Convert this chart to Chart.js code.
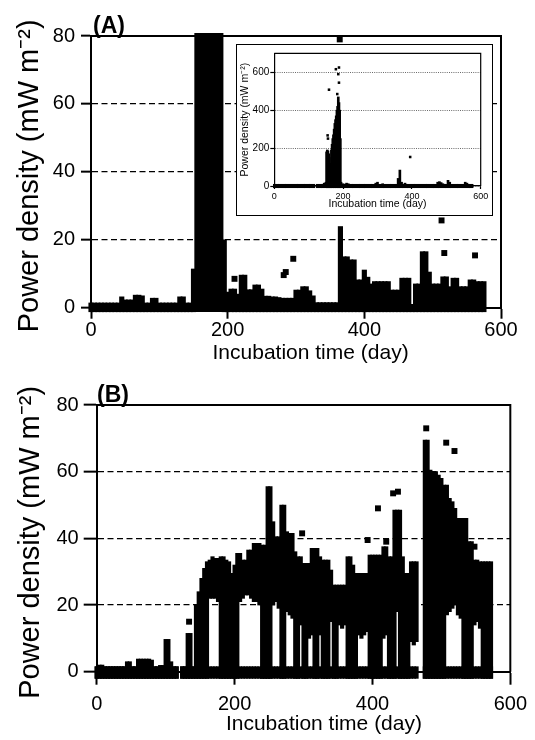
<!DOCTYPE html>
<html>
<head>
<meta charset="utf-8">
<script src="https://cdn.jsdelivr.net/npm/chart.js@4.4.1/dist/chart.umd.min.js"></script>
<style>
body { margin: 0; background: #fff; }
#page { position: relative; width: 535px; height: 740px; overflow: hidden; font-family: "Liberation Sans", Arial, sans-serif; }
canvas { position: absolute; display: block; }
#chartA { left: 0; top: 0; }
#chartB { left: 0; top: 370px; }
#insetBox { position: absolute; left: 236px; top: 44px; width: 255px; height: 170px; border: 1px solid #000; background: #fff; }
#inset { left: 0; top: 0; }
.tag { position: absolute; font-weight: bold; font-size: 23px; line-height: 23px; }
</style>
</head>
<body>
<div id="page">
  <canvas id="chartA" width="535" height="370"></canvas>
  <canvas id="chartB" width="535" height="370"></canvas>
  <div id="insetBox"><canvas id="inset" width="255" height="170"></canvas></div>
  <div class="tag" style="left:93px;top:14px">(A)</div>
  <div class="tag" style="left:97px;top:383px">(B)</div>
</div>
<script>
const FONT = '"Liberation Sans", Arial, sans-serif';

// --- Panel A: top edge of the marker cloud, read every 5 days ---
const dayA = [
  0, 5, 10, 15, 20, 25, 30, 35, 40, 45,
  50, 55, 60, 65, 70, 75, 80, 85, 90, 95,
  100, 105, 110, 115, 120, 125, 130, 135, 140, 145,
  150, 155, 160, 165, 170, 175, 180, 185, 190, 195,
  200, 205, 210, 215, 220, 225, 230, 235, 240, 245,
  250, 255, 260, 265, 270, 275, 280, 285, 290, 295,
  300, 305, 310, 315, 320, 325, 330, 335, 340, 345,
  350, 355, 360, 365, 370, 375, 380, 385, 390, 395,
  400, 405, 410, 415, 420, 425, 430, 435, 440, 445,
  450, 455, 460, 465, 470, 475, 480, 485, 490, 495,
  500, 505, 510, 515, 520, 525, 530, 535, 540, 545,
  550, 555, 560, 565, 570, 575
];
const topA = [
  1.4, 1.4, 1.4, 1.4, 1.4, 1.4, 1.4, 1.4, 1.4, 3.2,
  2.3, 2.3, 2.3, 3.7, 3.7, 3.5, 1.4, 1.4, 2.8, 2.8,
  1.4, 1.4, 1.4, 1.4, 1.4, 1.4, 3.2, 3.2, 1.4, 1.4,
  11.4, 80.8, 80.8, 80.8, 80.8, 80.8, 80.8, 80.8, 80.8, 20,
  4.6, 5.5, 5.5, 4, 9.6, 9.6, 5.3, 5.3, 6.7, 6.7,
  5.5, 3.4, 3.4, 3.2, 3.2, 3, 2.8, 2.8, 2.8, 2.8,
  5.2, 5.2, 6.2, 6.2, 5, 3.5, 1.5, 1.5, 1.5, 1.5,
  1.5, 1.5, 1.5, 23.9, 15, 15, 14.1, 14.1, 8.2, 8.2,
  11.1, 9, 7, 7.7, 7.7, 7.7, 7.7, 7.7, 5.2, 5.2,
  5.2, 8.7, 8.7, 8.7, 1, 7, 7, 16.5, 16.5, 10.5,
  7, 7, 7, 9.1, 9.1, 6.2, 8.7, 8.7, 6.2, 6.2,
  6.2, 8.2, 8.2, 7.7, 7.7, 7.7
];
const bottomA = -1.2;   // lower edge of the zero readings
const spotsA = [[210, 8.5], [282, 9.6], [285, 10.5], [296, 14.4], [364, 79], [513, 25.7], [517, 16.1], [562, 15.4]];

// --- Panel B: band top / band bottom every 4 days (-2 = reaches the zero line) ---
const dayB = [
  0, 4, 8, 12, 16, 20, 24, 28, 32, 36,
  40, 44, 48, 52, 56, 60, 64, 68, 72, 76,
  80, 84, 88, 92, 96, 100, 104, 108, 112, 116,
  120, 124, 128, 132, 136, 140, 144, 148, 152, 156,
  160, 164, 168, 172, 176, 180, 184, 188, 192, 196,
  200, 204, 208, 212, 216, 220, 224, 228, 232, 236,
  240, 244, 248, 252, 256, 260, 264, 268, 272, 276,
  280, 284, 288, 292, 296, 300, 304, 308, 312, 316,
  320, 324, 328, 332, 336, 340, 344, 348, 352, 356,
  360, 364, 368, 372, 376, 380, 384, 388, 392, 396,
  400, 404, 408, 412, 416, 420, 424, 428, 432, 436,
  440, 444, 448, 452, 456, 460, 464, 468, 472, 476,
  480, 484, 488, 492, 496, 500, 504, 508, 512, 516,
  520, 524, 528, 532, 536, 540, 544, 548, 552, 556,
  560, 564, 568, 572
];
const hiB = [
  1.5, 2, 2, 1.5, 1.5, 1.5, 1.5, 1.5, 1.5, 1.5,
  1.5, 3, 3, 1.5, 1.5, 3.8, 3.8, 3.8, 3.8, 3.8,
  3.5, 1.5, 1.5, 1.9, 1.9, 9.7, 9.7, 3, 1.5, 1.5,
  null, 1.5, 1.5, 11.5, 11.5, 1.5, 20, 24, 28, 31,
  33, 33.5, 34.5, 34, 34, 34.5, 34.5, 33.5, 33, 29.5,
  32, 35.5, 35.5, 33.5, 33.5, 36.5, 36.5, 38.5, 38.5, 38.5,
  38, 38, 55.5, 55.5, 45, 40.5, 40.5, 50, 50, 42,
  41.5, 41.5, 36, 34.5, 34.5, 32.5, 32.5, 32.5, 37, 37,
  37, 34.5, 33.5, 33.5, 33.5, 30.5, 26, 26, 26, 26,
  26, 34.5, 34.5, 32, 29.5, 29.5, 29.5, 29.5, 29.5, 35,
  35, 35, 35, 35, 37.5, 37.5, 34.5, 34.5, 48.5, 48.5,
  48.5, 34.5, 29.5, 29.5, 33, 33, 33, null, null, 69.5,
  69.5, 60.5, 60, 60, 59, 58, 56, 56, 52, 51,
  49, 46, 46, 46, 46, 39, 39, 33.5, 33.5, 33,
  33, 33, 33, 33
];
const loB = [
  -2, -2, -2, -2, -2, -2, -2, -2, -2, -2,
  -2, -2, -2, -2, -2, -2, -2, -2, -2, -2,
  -2, -2, -2, -2, -2, -2, -2, -2, -2, -2,
  null, -2, -2, -2, -2, -2, -2, -2, -2, -2,
  -2, 22, 22, 22, 21, -2, -2, -2, -2, -2,
  -2, -2, 21, 22, 23, 23, 22, 21, 21, 20,
  -2, -2, -2, -2, 20, 21, 19, -2, -2, 18,
  17, 16, -2, -2, 14, -2, -2, 10, 11, -2,
  -2, 11, -2, -2, -2, 15, -2, -2, 14, 13,
  14, -2, -2, -2, -2, 11, 10, 11, 12, -2,
  -2, -2, -2, -2, 10, 11, -2, -2, -2, 18,
  -2, -2, -2, -2, 9, 8, 9, null, null, -2,
  -2, -2, -2, -2, -2, -2, -2, 17, 18, 19,
  20, 17, 16, -2, -2, -2, -2, 14, 15, 13,
  -2, -2, -2, -2
];
const floorB = [-2, 1.5];   // the zero readings
const spotsB = [[134, 15], [298, 41.5], [393, 39.5], [408, 49], [420, 39], [430, 53.5], [437, 54],
  [478, 73], [507, 68.7], [519, 66.2], [548, 37.5]];

// --- Inset: full range of panel A ---
const dayIn = [
  0, 5, 10, 15, 20, 25, 30, 35, 40, 45,
  50, 55, 60, 65, 70, 75, 80, 85, 90, 95,
  100, 105, 110, 115, 125, 130, 135, 140, 145, 150,
  152, 154, 156, 158, 160, 162, 164, 166, 168, 170,
  172, 174, 176, 178, 180, 182, 184, 186, 188, 190,
  192, 194, 200, 205, 210, 215, 220, 225, 230, 235,
  240, 245, 250, 255, 260, 265, 270, 275, 280, 285,
  290, 295, 300, 305, 310, 315, 320, 325, 330, 335,
  340, 345, 350, 355, 360, 365, 370, 375, 380, 385,
  390, 395, 400, 405, 410, 415, 420, 425, 430, 435,
  440, 445, 450, 455, 460, 465, 470, 475, 480, 485,
  490, 495, 500, 505, 510, 515, 520, 525, 530, 535,
  540, 545, 550, 555, 560, 565, 570, 575
];
const topIn = [
  9, 9, 9, 9, 9, 9, 9, 9, 9, 9,
  9, 9, 9, 9, 9, 9, 9, 9, 9, 9,
  9, 9, 9, 9, 9, 9, 9, 9, 15, 20,
  180, 190, 185, 170, 150, 120, 75, 190, 220, 250,
  270, 300, 330, 350, 370, 400, 420, 470, 440, 400,
  250, 20, 12, 9, 15, 12, 9, 9, 9, 9,
  9, 9, 9, 9, 9, 9, 9, 9, 9, 9,
  9, 15, 20, 9, 9, 12, 9, 9, 9, 9,
  9, 9, 9, 9, 40, 84, 20, 9, 15, 9,
  9, 9, 9, 9, 9, 9, 9, 9, 9, 9,
  9, 9, 9, 9, 9, 9, 9, 20, 23, 18,
  12, 9, 9, 30, 20, 9, 9, 9, 9, 9,
  9, 9, 9, 20, 15, 9, 9, 9
];
const bottomIn = -9;
const spotsIn = [[155, 267], [156, 250], [159, 508], [179, 616], [188, 625], [186, 590], [183, 485], [188, 545], [395, 153]];

const xTicks = [0, 200, 400, 600];
const yTicksMain = [0, 20, 40, 60, 80];
const yTicksIn = [0, 200, 400, 600];
const yTitle = 'Power density (mW m\u207B\u00B2)';
const xTitle = 'Incubation time (day)';

// --- helpers ---
function bars(days, lo, hi) {
  const out = [];
  days.forEach((d, i) => {
    const l = Array.isArray(lo) ? lo[i] : lo;
    if (hi[i] === null || l === null) return;
    out.push({ x: d, y: [l, hi[i]] });
  });
  return out;
}
const spots = list => list.map(([x, y]) => ({ x, y }));

// top and right edges of the plot box
const frame = {
  id: 'frame',
  beforeDatasetsDraw(chart, args, opts) {
    const { ctx, chartArea: a } = chart;
    ctx.save();
    ctx.strokeStyle = '#000';
    ctx.lineWidth = opts.width;
    ctx.beginPath();
    ctx.moveTo(a.left, a.top);
    ctx.lineTo(a.right, a.top);
    ctx.lineTo(a.right, a.bottom);
    ctx.stroke();
    ctx.restore();
  }
};

function panel(id, p) {
  return new Chart(document.getElementById(id), {
    type: 'bar',
    data: {
      datasets: p.bars.map(data => ({
        data, backgroundColor: '#000', borderWidth: 0,
        barThickness: p.barW, grouped: false, clip: false
      })).concat([{
        type: 'scatter', data: p.spots, pointStyle: 'rect', pointRadius: p.dot,
        backgroundColor: '#000', borderWidth: 0, clip: false
      }])
    },
    plugins: [frame],
    options: {
      responsive: false,
      animation: false,
      events: [],
      layout: { padding: { top: p.top, right: p.right, left: 0, bottom: 0 } },
      plugins: { legend: { display: false }, tooltip: { enabled: false }, frame: { width: p.line } },
      scales: {
        x: {
          type: 'linear', min: 0, max: 600, offset: false,
          afterBuildTicks: s => { s.ticks = xTicks.map(v => ({ value: v })); },
          afterFit: s => { s.height = p.xH; },
          grid: { drawOnChartArea: false, offset: false, color: '#000', tickLength: p.xTick, tickWidth: p.line },
          border: { color: '#000', width: p.line },
          ticks: { color: '#000', font: { family: FONT, size: p.xFont }, padding: p.xPad, maxRotation: 0, autoSkip: false },
          title: { display: true, text: p.xTitle, color: '#000', font: { family: FONT, size: p.titleFont }, padding: { top: 0, bottom: p.xTitlePad } }
        },
        y: {
          min: 0, max: p.yMax,
          afterBuildTicks: s => { s.ticks = p.yTicks.map(v => ({ value: v })); },
          afterFit: s => { s.width = p.yW; },
          grid: { color: p.gridColor, lineWidth: p.gridWidth, tickColor: '#000', tickLength: p.yTick, tickWidth: p.line },
          border: { color: '#000', width: p.line, dash: p.dash },
          ticks: { color: '#000', font: { family: FONT, size: p.yFont }, padding: p.yPad },
          title: { display: true, text: p.yTitle, color: '#000', font: { family: FONT, size: p.yTitleFont }, padding: { top: p.yTitlePad, bottom: 0 } }
        }
      }
    }
  });
}

panel('chartA', {
  bars: [bars(dayA, bottomA, topA)], spots: spots(spotsA), barW: 4.5, dot: 4.2,
  top: 36, right: 34, yW: 91, xH: 62.3, yMax: 80, yTicks: yTicksMain,
  line: 2, gridColor: '#000', gridWidth: 1.3, dash: [6, 3.5],
  xTick: 11, xPad: 0, xFont: 20, yTick: 10, yPad: 6, yFont: 20,
  xTitle: '     ' + xTitle, titleFont: 21, xTitlePad: 3.7,
  yTitle: yTitle + ' ', yTitleFont: 29, yTitlePad: 12.6
});

panel('chartB', {
  bars: [
    dayB.filter((d, i) => hiB[i] !== null).map(d => ({ x: d, y: floorB })),
    bars(dayB, loB, hiB)
  ],
  spots: spots(spotsB), barW: 3.5, dot: 4.2,
  top: 35, right: 24, yW: 96.7, xH: 68.3, yMax: 80, yTicks: yTicksMain,
  line: 2, gridColor: '#000', gridWidth: 1.3, dash: [6, 3.5],
  xTick: 13, xPad: 8, xFont: 20, yTick: 13, yPad: 5, yFont: 20,
  xTitle: '       ' + xTitle, titleFont: 21, xTitlePad: 3.5,
  yTitle: yTitle + ' ', yTitleFont: 29, yTitlePad: 14
});

panel('inset', {
  bars: [bars(dayIn, bottomIn, topIn)], spots: spots(spotsIn), barW: 2, dot: 1.8,
  top: 8.3, right: 11.3, yW: 37.3, xH: 29, yMax: 700, yTicks: yTicksIn,
  line: 1.2, gridColor: '#444', gridWidth: 0.8, dash: [1, 1.2],
  xTick: 3, xPad: 2, xFont: 9, yTick: 4, yPad: 1, yFont: 10,
  xTitle: xTitle, titleFont: 10.5, xTitlePad: 4.2,
  yTitle: yTitle, yTitleFont: 10.5, yTitlePad: 1.5
});
</script>
</body>
</html>
